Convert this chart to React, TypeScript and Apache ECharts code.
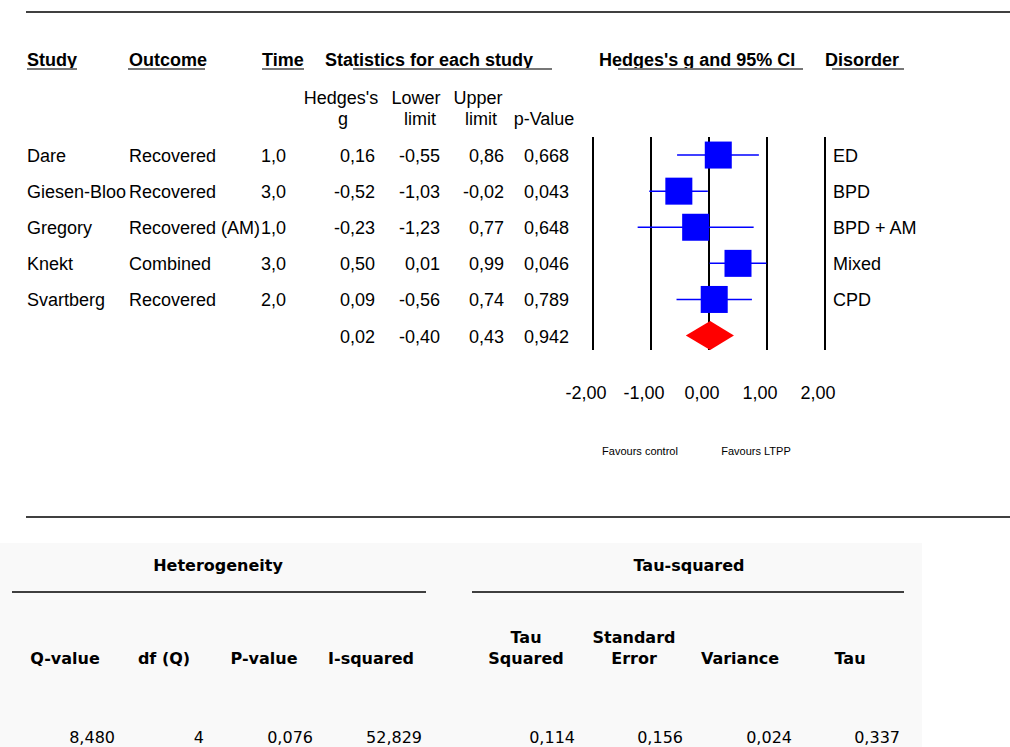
import React, { useEffect, useRef } from "react";
import * as echarts from "echarts";

// ---------- data ----------
const studies = ["Dare", "Giesen-Bloo", "Gregory", "Knekt", "Svartberg"];
const outcomes = ["Recovered", "Recovered", "Recovered (AM)", "Combined", "Recovered"];
const times = ["1,0", "3,0", "1,0", "3,0", "2,0"];
const hedgesG = [0.16, -0.52, -0.23, 0.5, 0.09];
const lowerLimits = [-0.55, -1.03, -1.23, 0.01, -0.56];
const upperLimits = [0.86, -0.02, 0.77, 0.99, 0.74];
const pValues = ["0,668", "0,043", "0,648", "0,046", "0,789"];
const disorders = ["ED", "BPD", "BPD + AM", "Mixed", "CPD"];

const pooledG = 0.02;
const pooledLower = -0.4;
const pooledUpper = 0.43;
const pooledP = "0,942";

const xTicks = [-2, -1, 0, 1, 2];

const heterogeneityHeaders = ["Q-value", "df (Q)", "P-value", "I-squared"];
const heterogeneityValues = ["8,480", "4", "0,076", "52,829"];
const tauHeaders = [["Tau", "Squared"], ["Standard", "Error"], ["Variance"], ["Tau"]];
const tauValues = ["0,114", "0,156", "0,024", "0,337"];

// ---------- layout ----------
const FONT = "'Liberation Sans', Arial, sans-serif";
const BFONT = "'DejaVu Sans', sans-serif";
const FS = 18;
const colStudy = 27;
const colOutcome = 129;
const colTime = 286;
const colG = 375;
const colLower = 440;
const colUpper = 504;
const colP = 569;
const colDisorder = 833;

const fmt = (v: number) => v.toFixed(2).replace(".", ",");

function txt(text: string, x: number, y: number, align: string, opts: any = {}) {
  return {
    type: "text",
    x,
    y,
    silent: true,
    style: {
      text,
      fill: opts.fill || "#000",
      fontSize: opts.fontSize || FS,
      fontFamily: opts.fontFamily || FONT,
      fontWeight: opts.fontWeight || "normal",
      align,
      textAlign: align,
      verticalAlign: "middle",
      textVerticalAlign: "middle",
    },
  };
}

function hline(x1: number, x2: number, y: number, stroke = "#000", lineWidth = 1.5) {
  return {
    type: "line",
    silent: true,
    shape: { x1, y1: y, x2, y2: y },
    style: { stroke, lineWidth },
  };
}

export default function App() {
  const ref = useRef<HTMLDivElement>(null);

  useEffect(() => {
    if (!ref.current) return;
    const chart = echarts.init(ref.current, undefined, { renderer: "svg" });

    const studyData = hedgesG.map((g, i) => [g, lowerLimits[i], upperLimits[i], i]);
    const pooledRow = studies.length;
    const textRows = [...studies.map((_, i) => [0, i]), [0, pooledRow]];

    const graphics: any[] = [];
    // rules
    graphics.push(hline(26, 1010, 12));
    graphics.push(hline(26, 1010, 517));

    // headers
    const hb = { fontWeight: "bold" };
    graphics.push(txt("Study", colStudy, 60, "left", hb));
    graphics.push(txt("Outcome", colOutcome, 60, "left", hb));
    graphics.push(txt("Time", 262, 60, "left", hb));
    graphics.push(txt("Statistics for each study", 325, 60, "left", hb));
    graphics.push(txt("Hedges's g and 95% CI", 599, 60, "left", hb));
    graphics.push(txt("Disorder", 825, 60, "left", hb));
    const ul = "#777";
    graphics.push(hline(27, 77, 69, ul, 2));
    graphics.push(hline(128, 205, 69, ul, 2));
    graphics.push(hline(262, 304, 69, ul, 2));
    graphics.push(hline(353, 552, 69, ul, 2));
    graphics.push(hline(618, 803, 69, ul, 2));
    graphics.push(hline(832, 904, 69, ul, 2));

    // sub headers
    graphics.push(txt("Hedges's", 341, 98, "center"));
    graphics.push(txt("g", 343, 119, "center"));
    graphics.push(txt("Lower", 416, 98, "center"));
    graphics.push(txt("limit", 420, 119, "center"));
    graphics.push(txt("Upper", 478, 98, "center"));
    graphics.push(txt("limit", 481, 119, "center"));
    graphics.push(txt("p-Value", 544, 119, "center"));

    // favours
    graphics.push(txt("Favours control", 640, 451, "center", { fontSize: 11 }));
    graphics.push(txt("Favours LTPP", 756, 451, "center", { fontSize: 11 }));

    // bottom panel
    graphics.push({
      type: "rect",
      silent: true,
      z: -10,
      shape: { x: 0, y: 543, width: 922, height: 204 },
      style: { fill: "#f9f9f9" },
    });
    const bb = { fontFamily: BFONT, fontWeight: "bold", fontSize: 16 };
    const bn = { fontFamily: BFONT, fontSize: 16 };
    graphics.push(txt("Heterogeneity", 218, 565, "center", bb));
    graphics.push(txt("Tau-squared", 689, 565, "center", bb));
    graphics.push(hline(12, 426, 592));
    graphics.push(hline(472, 904, 592));

    const hetCenters = [65, 164, 264, 371];
    const hetRights = [115, 204, 313, 422];
    heterogeneityHeaders.forEach((h, i) => graphics.push(txt(h, hetCenters[i], 658, "center", bb)));
    heterogeneityValues.forEach((v, i) => graphics.push(txt(v, hetRights[i], 737, "right", bn)));

    const tauCenters = [526, 634, 740, 850];
    const tauRights = [575, 683, 792, 900];
    tauHeaders.forEach((lines, i) => {
      if (lines.length === 2) {
        graphics.push(txt(lines[0], tauCenters[i], 637, "center", bb));
        graphics.push(txt(lines[1], tauCenters[i], 658, "center", bb));
      } else {
        graphics.push(txt(lines[0], tauCenters[i], 658, "center", bb));
      }
    });
    tauValues.forEach((v, i) => graphics.push(txt(v, tauRights[i], 737, "right", bn)));

    chart.setOption({
      animation: false,
      backgroundColor: "#fff",
      grid: { left: 593, right: 185, top: 137, bottom: 397 },
      xAxis: {
        type: "value",
        min: xTicks[0],
        max: xTicks[xTicks.length - 1],
        interval: 1,
        axisLine: { show: false },
        axisTick: { show: false },
        splitLine: { show: true, showMinLine: true, showMaxLine: true, lineStyle: { color: "#000", width: 2 } },
        axisLabel: {
          formatter: (v: number) => fmt(v),
          color: "#000",
          fontSize: FS,
          fontFamily: FONT,
          margin: 34,
          padding: [0, 14, 0, 0],
        },
      },
      yAxis: {
        type: "value",
        min: -0.5,
        max: 5.4,
        inverse: true,
        show: false,
        splitLine: { show: false },
      },
      graphic: graphics,
      series: [
        {
          type: "custom",
          silent: true,
          data: studyData,
          encode: { x: [0, 1, 2], y: 3 },
          renderItem: (params: any, api: any) => {
            const g = api.value(0);
            const lo = api.value(1);
            const hi = api.value(2);
            const row = api.value(3);
            const pc = api.coord([g, row]);
            const pl = api.coord([lo, row]);
            const ph = api.coord([hi, row]);
            const s = 27;
            return {
              type: "group",
              children: [
                {
                  type: "line",
                  shape: { x1: pl[0], y1: pc[1], x2: ph[0], y2: pc[1] },
                  style: { stroke: "#0000ff", lineWidth: 1.5 },
                },
                {
                  type: "rect",
                  shape: { x: pc[0] - s / 2, y: pc[1] - s / 2, width: s, height: s },
                  style: { fill: "#0000ff" },
                },
              ],
            };
          },
        },
        {
          type: "custom",
          silent: true,
          data: [[pooledG, pooledLower, pooledUpper, pooledRow]],
          encode: { x: [0, 1, 2], y: 3 },
          renderItem: (params: any, api: any) => {
            const row = api.value(3);
            const pc = api.coord([api.value(0), row]);
            const pl = api.coord([api.value(1), row]);
            const ph = api.coord([api.value(2), row]);
            const h = 14.5;
            return {
              type: "polygon",
              shape: {
                points: [
                  [pl[0], pc[1]],
                  [pc[0], pc[1] - h],
                  [ph[0], pc[1]],
                  [pc[0], pc[1] + h],
                ],
              },
              style: { fill: "#ff0000" },
            };
          },
        },
        {
          type: "custom",
          silent: true,
          clip: false,
          data: textRows,
          encode: { x: 0, y: 1 },
          renderItem: (params: any, api: any) => {
            const i = params.dataIndex;
            const y = api.coord([0, api.value(1)])[1] + 1;
            const children: any[] = [];
            if (i < studies.length) {
              children.push(txt(studies[i], colStudy, y, "left"));
              children.push(txt(outcomes[i], colOutcome, y, "left"));
              children.push(txt(times[i], colTime, y, "right"));
              children.push(txt(fmt(hedgesG[i]), colG, y, "right"));
              children.push(txt(fmt(lowerLimits[i]), colLower, y, "right"));
              children.push(txt(fmt(upperLimits[i]), colUpper, y, "right"));
              children.push(txt(pValues[i], colP, y, "right"));
              children.push(txt(disorders[i], colDisorder, y, "left"));
            } else {
              children.push(txt(fmt(pooledG), colG, y, "right"));
              children.push(txt(fmt(pooledLower), colLower, y, "right"));
              children.push(txt(fmt(pooledUpper), colUpper, y, "right"));
              children.push(txt(pooledP, colP, y, "right"));
            }
            return { type: "group", children };
          },
        },
      ],
    });

    return () => chart.dispose();
  }, []);

  return (
    <div
      ref={ref}
      style={{ position: "absolute", left: 0, top: 0, width: 1010, height: 747, background: "#fff" }}
    />
  );
}
